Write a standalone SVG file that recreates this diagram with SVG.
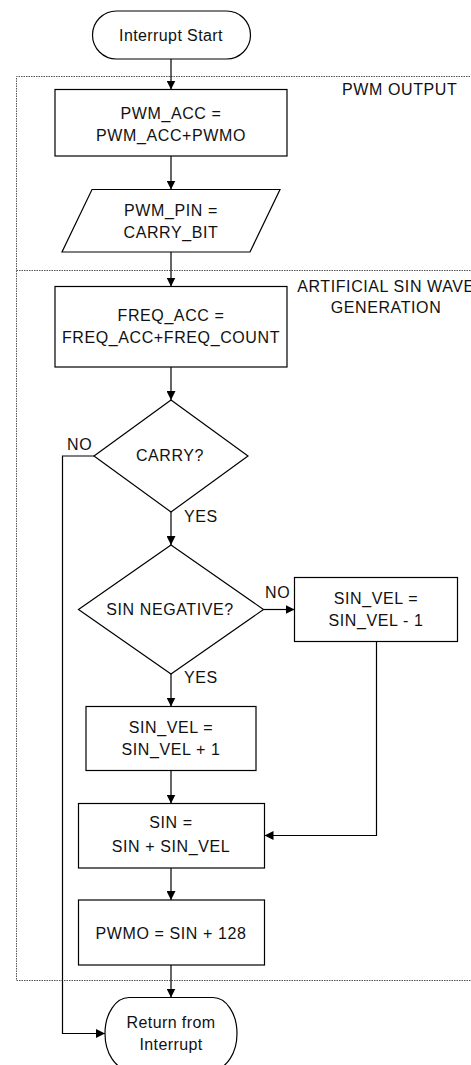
<svg xmlns="http://www.w3.org/2000/svg" width="471" height="1065" viewBox="0 0 471 1065">
<style>
.shape{fill:#fff;stroke:#000;stroke-width:1.2}
.t{font-family:"Liberation Sans",Arial,sans-serif;font-size:16px;fill:#111;text-anchor:middle;letter-spacing:0.6px}
.tm{font-family:"Liberation Sans",Arial,sans-serif;font-size:16px;fill:#111;text-anchor:middle;letter-spacing:0.4px}
.lbl{font-family:"Liberation Sans",Arial,sans-serif;font-size:16px;fill:#111;letter-spacing:0.6px}
.conn{fill:none;stroke:#000;stroke-width:1.2}
.region{fill:none;stroke:#555;stroke-width:1;stroke-dasharray:1.5 1}
</style>
<defs>
<marker id="arr" markerWidth="9" markerHeight="9" refX="9" refY="4.5" orient="auto" markerUnits="userSpaceOnUse">
<path d="M0,0 L9,4.5 L0,9 Z" fill="#000"/>
</marker>
</defs>
<g id="regions">
<path class="region" d="M480,76.5 H16.5 V980.5 H480"/>
<line class="region" x1="16.5" y1="270.5" x2="480" y2="270.5"/>
<text class="lbl" x="342" y="95">PWM OUTPUT</text>
<text class="t" x="386" y="292">ARTIFICIAL SIN WAVE</text>
<text class="t" x="386" y="313">GENERATION</text>
</g>
<g id="connectors">
<line class="conn" x1="171" y1="59" x2="171" y2="89.5" marker-end="url(#arr)"/>
<line class="conn" x1="171" y1="156" x2="171" y2="189.5" marker-end="url(#arr)"/>
<line class="conn" x1="171" y1="252" x2="171" y2="286.5" marker-end="url(#arr)"/>
<line class="conn" x1="171" y1="367" x2="171" y2="400" marker-end="url(#arr)"/>
<line class="conn" x1="171" y1="512" x2="171" y2="545" marker-end="url(#arr)"/>
<line class="conn" x1="171" y1="674" x2="171" y2="706.5" marker-end="url(#arr)"/>
<line class="conn" x1="171" y1="770.5" x2="171" y2="803.5" marker-end="url(#arr)"/>
<line class="conn" x1="171" y1="868" x2="171" y2="900" marker-end="url(#arr)"/>
<line class="conn" x1="171" y1="965" x2="171" y2="997.5" marker-end="url(#arr)"/>
<line class="conn" x1="263.5" y1="609.5" x2="294.5" y2="609.5" marker-end="url(#arr)"/>
<path class="conn" d="M376.5,641.5 V835.5 H264.5" marker-end="url(#arr)"/>
<path class="conn" d="M94,456 H62.5 V1033.5 H105" marker-end="url(#arr)"/>
<text class="lbl" x="67" y="450">NO</text>
<text class="lbl" x="184" y="522">YES</text>
<text class="lbl" x="265" y="598">NO</text>
<text class="lbl" x="184" y="683">YES</text>
</g>
<g id="start">
<rect class="shape" x="92.5" y="11" width="158" height="48" rx="24" ry="24"/>
<text class="tm" x="171" y="41">Interrupt Start</text>
</g>
<g id="pwm_acc">
<rect class="shape" x="55" y="89.5" width="232" height="66.5"/>
<text class="t" x="171" y="119">PWM_ACC =</text>
<text class="t" x="171" y="141">PWM_ACC+PWMO</text>
</g>
<g id="pwm_pin">
<polygon class="shape" points="92,189.5 280,189.5 250,252 62,252"/>
<text class="t" x="171" y="216">PWM_PIN =</text>
<text class="t" x="171" y="237.5">CARRY_BIT</text>
</g>
<g id="freq_acc">
<rect class="shape" x="55" y="286.5" width="232" height="80.5"/>
<text class="t" x="171" y="321">FREQ_ACC =</text>
<text class="t" x="171" y="343">FREQ_ACC+FREQ_COUNT</text>
</g>
<g id="carry">
<polygon class="shape" points="171,400 248,456 171,512 94,456"/>
<text class="t" x="170" y="461">CARRY?</text>
</g>
<g id="sin_negative">
<polygon class="shape" points="171,545 263.5,609.5 171,674 78.5,609.5"/>
<text class="t" x="170" y="614.5">SIN NEGATIVE?</text>
</g>
<g id="sin_vel_minus">
<rect class="shape" x="294.5" y="577.5" width="163" height="64"/>
<text class="t" x="376" y="603.5">SIN_VEL =</text>
<text class="t" x="376" y="625.5">SIN_VEL - 1</text>
</g>
<g id="sin_vel_plus">
<rect class="shape" x="86" y="706.5" width="170" height="64"/>
<text class="t" x="171" y="733">SIN_VEL =</text>
<text class="t" x="171" y="754.5">SIN_VEL + 1</text>
</g>
<g id="sin">
<rect class="shape" x="78.5" y="803.5" width="186" height="64.5"/>
<text class="t" x="171" y="828">SIN =</text>
<text class="t" x="171" y="852">SIN + SIN_VEL</text>
</g>
<g id="pwmo">
<rect class="shape" x="78.5" y="900" width="186" height="65"/>
<text class="t" x="171" y="938.5">PWMO = SIN + 128</text>
</g>
<g id="return">
<rect class="shape" x="105" y="997.5" width="132" height="72" rx="24" ry="36"/>
<text class="tm" x="171" y="1028">Return from</text>
<text class="tm" x="171" y="1049.5">Interrupt</text>
</g>
</svg>
